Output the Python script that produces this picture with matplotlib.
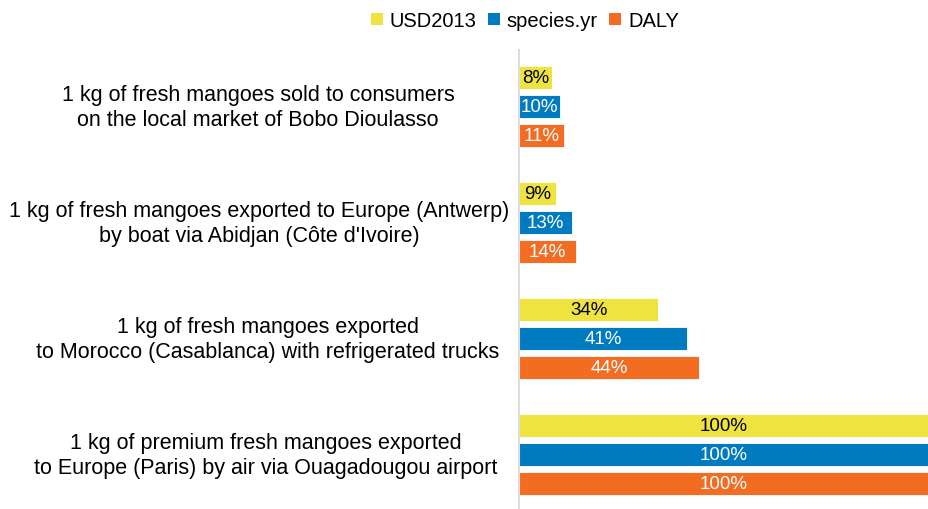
import numpy as np
import matplotlib.pyplot as plt
from matplotlib.patches import Patch

plt.rcParams['font.family'] = ['Liberation Sans', 'DejaVu Sans']

# ---------------------------------------------------------------------------
# Data
# ---------------------------------------------------------------------------
scenarios = [
    "1 kg of fresh mangoes sold to consumers\non the local market of Bobo Dioulasso",
    "1 kg of fresh mangoes exported to Europe (Antwerp)\nby boat via Abidjan (Côte d'Ivoire)",
    "1 kg of fresh mangoes exported\nto Morocco (Casablanca) with refrigerated trucks",
    "1 kg of premium fresh mangoes exported\nto Europe (Paris) by air via Ouagadougou airport",
]
series_names = ['USD2013', 'species.yr', 'DALY']
usd2013 = [8, 9, 34, 100]
species_yr = [10, 13, 41, 100]
daly = [11, 14, 44, 100]

colors = ['#EFE43F', '#007BBF', '#F26C22']
text_colors = ['black', 'white', 'white']

# label block centres in figure pixels (labels are not aligned in the original)
label_x = [258, 259, 268, 266]

# ---------------------------------------------------------------------------
# Figure
# ---------------------------------------------------------------------------
W, H = 929, 510
fig = plt.figure(figsize=(W / 100, H / 100), dpi=100)
ax = fig.add_axes([519 / W, 0, 410 / W, 459 / H])

y = np.arange(len(scenarios))
bar_h = 0.198
offset = 0.25

for i, (vals, c, tc) in enumerate(zip([usd2013, species_yr, daly], colors, text_colors)):
    pos = y + (i - 1) * offset
    ax.barh(pos, vals, height=bar_h, color=c, edgecolor='white', linewidth=0.6)
    for p, v in zip(pos, vals):
        ax.text(v / 2, p, f"{v}%", ha='center', va='center', color=tc, fontsize=13.5)

ax.set_xlim(0, 100)
ax.set_ylim(3.466, -0.491)
ax.set_xticks([])
ax.set_yticks([])
for s in ['top', 'right', 'bottom']:
    ax.spines[s].set_visible(False)
ax.spines['left'].set_color('#DDDDDD')
ax.spines['left'].set_linewidth(1.5)

# category labels to the left of the axis
for yi, lab, lx in zip(y, scenarios, label_x):
    yp = ax.transData.transform((0, yi))[1]
    fig.text(lx / W, yp / H, lab, ha='center', va='center', fontsize=15.5,
             multialignment='center', linespacing=1.2)

handles = [Patch(facecolor=c, edgecolor='none') for c in colors]
fig.legend(handles, series_names, loc='upper center', bbox_to_anchor=(0.565, 1.012),
           ncol=3, frameon=False, fontsize=14.5, handlelength=0.6, handleheight=0.6,
           handletextpad=0.35, columnspacing=0.55)

fig.savefig('out.png', dpi=100)
